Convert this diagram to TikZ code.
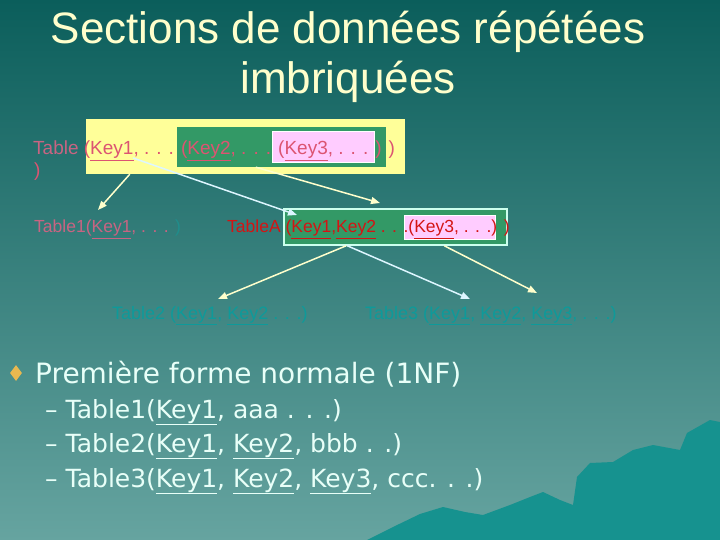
\documentclass[tikz,border=0pt]{standalone}
\usepackage{fontspec}
\setmainfont{Liberation Sans}
\newfontfamily\bulletfont{DejaVu Sans}
\usetikzlibrary{arrows.meta,calc,shapes.geometric}
\definecolor{SlideTop}{HTML}{0B5E5B}
\definecolor{SlideMid}{HTML}{3F807C}
\definecolor{SlideBottom}{HTML}{66A4A0}
\definecolor{MountainTeal}{HTML}{16928F}
\definecolor{TitleYellow}{HTML}{FFFFCC}
\definecolor{BoxYellow}{HTML}{FFFF99}
\definecolor{BoxGreen}{HTML}{339966}
\definecolor{BoxPink}{HTML}{FFCCFF}
\definecolor{GreenRim}{HTML}{CCFFEE}
\definecolor{TableRose}{HTML}{C86482}
\definecolor{KeyRose}{HTML}{DC5472}
\definecolor{TableRed}{HTML}{D41414}
\definecolor{TealText}{HTML}{0E9A9A}
\definecolor{HiddenTeal}{HTML}{1F8E8C}
\definecolor{ArrowYellow}{HTML}{FFFFCC}
\definecolor{ArrowIce}{HTML}{DDF6FF}
\definecolor{BulletGold}{HTML}{E8B850}
\definecolor{BulletText}{HTML}{E8FFF8}
\tikzset{
  slideTitle/.style={text=TitleYellow,font=\fontsize{44}{50}\selectfont,inner sep=0pt,anchor=base},
  nestText/.style={anchor=base west,inner sep=0pt,font=\fontsize{17.5}{22}\selectfont},
  nestTop/.style={nestText,font=\fontsize{19}{22}\selectfont},
  nestLow/.style={nestText,font=\fontsize{18}{22}\selectfont},
  outerBox/.style={rectangle,fill=BoxYellow,inner sep=0pt},
  innerBox/.style={rectangle,fill=BoxGreen,inner sep=0pt},
  rimBox/.style={innerBox,draw=GreenRim,line width=1.5pt},
  keyBox/.style={rectangle,fill=BoxPink,draw=white,line width=.8pt,inner sep=0pt},
  feed/.style={-{Triangle[length=9pt,width=7pt]},draw=ArrowYellow,line width=1.5pt},
  feedIce/.style={feed,draw=ArrowIce},
  bulletMark/.style={diamond,fill=BulletGold,inner sep=0pt,minimum width=12pt,minimum height=16pt},
  bulletHead/.style={anchor=base west,inner sep=0pt,text=BulletText,font=\bulletfont\fontsize{28}{32}\selectfont},
  bulletSub/.style={bulletHead,font=\bulletfont\fontsize{25}{28}\selectfont}
}

\begin{document}
\begin{tikzpicture}[x=1pt,y=-1pt]
  % Slide background and mountain silhouette
  \shade[top color=SlideTop,middle color=SlideMid,bottom color=SlideBottom] (0,0) rectangle (720,540);
  \fill[MountainTeal] (367,540) -- (393,527) -- (420,514) -- (443,507) -- (465,512) -- (483,515)
    -- (510,505) -- (530,497) -- (543,492) -- (560,500) -- (573,505) -- (577,477) -- (590,463)
    -- (613,462) -- (633,450) -- (653,445) -- (680,450) -- (687,433) -- (710,420) -- (720,422)
    -- (720,540) -- cycle;

  % Title
  \node[slideTitle] (title) at (348,44) {Sections de données répétées};
  \node[slideTitle] (titleTwo) at (348,94) {imbriquées};

  % Nested repeating sections
  \node[outerBox,minimum width=319pt,minimum height=55pt] (outer) at (245.5,146.5) {};
  \node[innerBox,minimum width=209pt,minimum height=40pt] (inner) at (281.5,147) {};
  \node[keyBox,minimum width=102pt,minimum height=31pt] (innerKey) at (323,146.5) {};
  \node[nestTop,text=KeyRose] (nested) at (33,155)
    {\textcolor{TableRose}{Table} (\underline{Key1}, . . . (\underline{Key2}, . . . (\underline{Key3}, . . . ) )};
  \node[nestTop,text=KeyRose] (nestedEnd) at (34,177) {)};

  % First split
  \node[nestText,text=TableRose] (tableOne) at (34,233) {Table1(\underline{Key1}, . . . \textcolor{HiddenTeal}{)}};
  \node[rimBox,minimum width=223pt,minimum height=36pt] (boxA) at (395.5,227) {};
  \node[keyBox,minimum width=91pt,minimum height=24pt] (keyA) at (449.5,227) {};
  \node[nestText,text=TableRed] (tableA) at (227,233)
    {TableA (\underline{Key1},\underline{Key2} . . .(\underline{Key3}, . . .) )};

  % Second split
  \node[nestLow,text=TealText] (tableTwo) at (112,319) {Table2 (\underline{Key1}, \underline{Key2} . . .)};
  \node[nestLow,text=TealText] (tableThree) at (365,319) {Table3 (\underline{Key1}, \underline{Key2}, \underline{Key3}, . . .)};

  % Arrow ends
  \coordinate (keyOne) at (133,158);
  \coordinate (tipOne) at (98,210);
  \coordinate (tipA) at (297,215);
  \coordinate (tipAKey) at (380,203);
  \coordinate (tipTwo) at (218,299);
  \coordinate (tipThree) at (470,299);
  \coordinate (tipThreeKey) at (537,293);
  \draw[feed] ($(outer.south west)+(44,0)$) -- (tipOne);
  \draw[feedIce] (keyOne) -- (tipA);
  \draw[feed] ($(inner.south west)+(79,0)$) -- (tipAKey);
  \draw[feed] ($(boxA.south west)+(63,0)$) -- (tipTwo);
  \draw[feedIce] ($(boxA.south west)+(64,0)$) -- (tipThree);
  \draw[feed] ($(boxA.south west)+(161,0)$) -- (tipThreeKey);

  % First normal form
  \node[bulletMark] (bullet) at (16,373) {};
  \node[bulletHead] (nfHead) at (35,383) {Première forme normale (1NF)};
  \node[bulletSub] (nfOne) at (45,418) {– Table1(\underline{Key1}, aaa . . .)};
  \node[bulletSub] (nfTwo) at (45,452) {– Table2(\underline{Key1}, \underline{Key2}, bbb . .)};
  \node[bulletSub] (nfThree) at (45,487) {– Table3(\underline{Key1}, \underline{Key2}, \underline{Key3}, ccc. . .)};
\end{tikzpicture}
\end{document}
